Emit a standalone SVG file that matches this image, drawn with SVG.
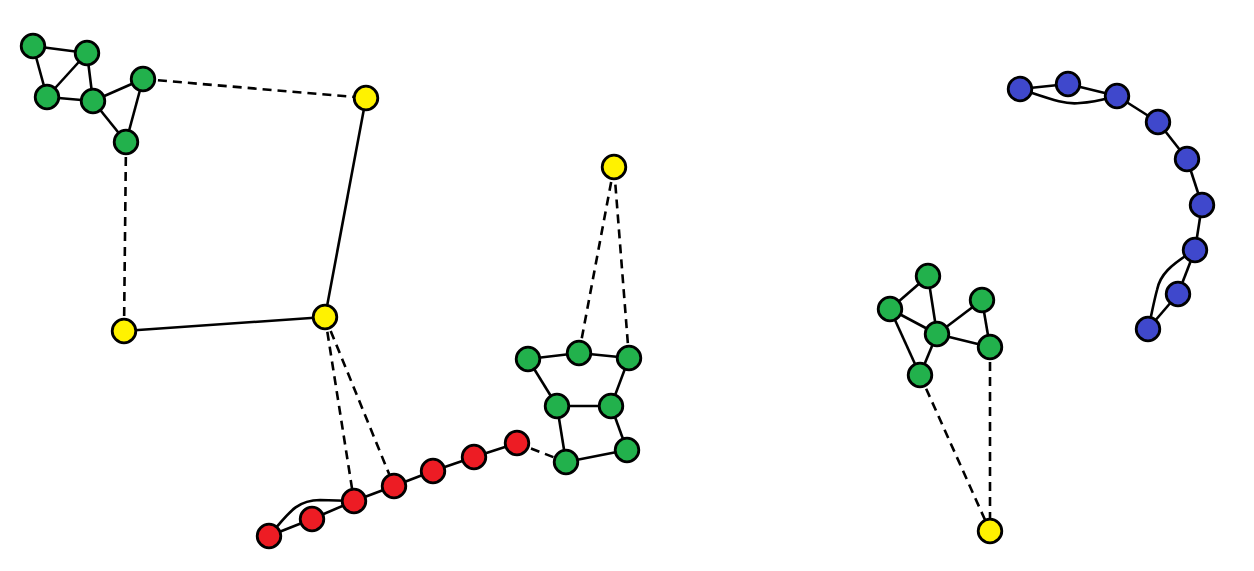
<svg xmlns="http://www.w3.org/2000/svg" width="1254" height="571" viewBox="0 0 1254 571">
<style>
.e{stroke:#000;stroke-width:2.6;fill:none}
.d{stroke:#000;stroke-width:2.6;fill:none;stroke-dasharray:9,6}
circle{stroke:#000;stroke-width:2.8}
.g{fill:#22b14c}.y{fill:#fff200}.r{fill:#ed1c24}.b{fill:#3f48cc}
</style>
<rect width="1254" height="571" fill="#fff"/>
<g id="connectors">
<line class="e" x1="33" y1="46" x2="87" y2="53"/>
<line class="e" x1="33" y1="46" x2="47" y2="97"/>
<line class="e" x1="47" y1="97" x2="87" y2="53"/>
<line class="e" x1="87" y1="53" x2="93" y2="101"/>
<line class="e" x1="47" y1="97" x2="93" y2="101"/>
<line class="e" x1="93" y1="101" x2="143" y2="79"/>
<line class="e" x1="93" y1="101" x2="126" y2="142"/>
<line class="e" x1="143" y1="79" x2="126" y2="142"/>
<line class="d" x1="143" y1="79" x2="366" y2="98"/>
<line class="d" x1="126" y1="142" x2="124" y2="331"/>
<line class="e" x1="366" y1="98" x2="325" y2="317"/>
<line class="e" x1="124" y1="331" x2="325" y2="317"/>
<line class="d" x1="325" y1="317" x2="354" y2="501"/>
<line class="d" x1="325" y1="317" x2="394" y2="486"/>
<line class="e" x1="269" y1="536" x2="312" y2="519"/>
<line class="e" x1="312" y1="519" x2="354" y2="501"/>
<line class="e" x1="354" y1="501" x2="394" y2="486"/>
<line class="e" x1="394" y1="486" x2="433" y2="471"/>
<line class="e" x1="433" y1="471" x2="474" y2="457"/>
<line class="e" x1="474" y1="457" x2="517" y2="443"/>
<path class="e" d="M269,536 C288,514 296,500 320,500 L354,501"/>
<line class="d" x1="517" y1="443" x2="566" y2="462"/>
<line class="e" x1="528" y1="359" x2="579" y2="353"/>
<line class="e" x1="579" y1="353" x2="629" y2="358"/>
<line class="e" x1="528" y1="359" x2="557" y2="406"/>
<line class="e" x1="629" y1="358" x2="611" y2="406"/>
<line class="e" x1="557" y1="406" x2="611" y2="406"/>
<line class="e" x1="557" y1="406" x2="566" y2="462"/>
<line class="e" x1="611" y1="406" x2="627" y2="450"/>
<line class="e" x1="566" y1="462" x2="627" y2="450"/>
<line class="d" x1="579" y1="353" x2="614" y2="167"/>
<line class="d" x1="629" y1="358" x2="614" y2="167"/>
<line class="e" x1="928" y1="276" x2="890" y2="309"/>
<line class="e" x1="928" y1="276" x2="937" y2="334"/>
<line class="e" x1="890" y1="309" x2="937" y2="334"/>
<line class="e" x1="890" y1="309" x2="920" y2="375"/>
<line class="e" x1="937" y1="334" x2="920" y2="375"/>
<line class="e" x1="937" y1="334" x2="982" y2="300"/>
<line class="e" x1="937" y1="334" x2="990" y2="347"/>
<line class="e" x1="982" y1="300" x2="990" y2="347"/>
<line class="d" x1="920" y1="375" x2="990" y2="531"/>
<line class="d" x1="990" y1="347" x2="990" y2="531"/>
<line class="e" x1="1020" y1="89" x2="1068" y2="84"/>
<line class="e" x1="1068" y1="84" x2="1117" y2="96"/>
<path class="e" d="M1020,89 C1050,99 1065,105 1080,103 C1095,102 1105,99 1117,96"/>
<line class="e" x1="1117" y1="96" x2="1158" y2="122"/>
<line class="e" x1="1158" y1="122" x2="1187" y2="159"/>
<line class="e" x1="1187" y1="159" x2="1202" y2="205"/>
<line class="e" x1="1202" y1="205" x2="1195" y2="250"/>
<line class="e" x1="1195" y1="250" x2="1178" y2="294"/>
<line class="e" x1="1178" y1="294" x2="1148" y2="329"/>
<path class="e" d="M1195,250 C1170,265 1160,275 1157,290 C1153,305 1151,318 1148,329"/>
</g>
<g id="n-a"><circle class="g" cx="33" cy="46" r="11.8"/></g>
<g id="n-b"><circle class="g" cx="87" cy="53" r="11.8"/></g>
<g id="n-c"><circle class="g" cx="47" cy="97" r="11.8"/></g>
<g id="n-d"><circle class="g" cx="93" cy="101" r="11.8"/></g>
<g id="n-e"><circle class="g" cx="143" cy="79" r="11.8"/></g>
<g id="n-f"><circle class="g" cx="126" cy="142" r="11.8"/></g>
<g id="y1"><circle class="y" cx="366" cy="98" r="11.8"/></g>
<g id="y2"><circle class="y" cx="124" cy="331" r="11.8"/></g>
<g id="y3"><circle class="y" cx="325" cy="317" r="11.8"/></g>
<g id="y4"><circle class="y" cx="614" cy="167" r="11.8"/></g>
<g id="y5"><circle class="y" cx="990" cy="531" r="11.8"/></g>
<g id="r1"><circle class="r" cx="269" cy="536" r="11.8"/></g>
<g id="r2"><circle class="r" cx="312" cy="519" r="11.8"/></g>
<g id="r3"><circle class="r" cx="354" cy="501" r="11.8"/></g>
<g id="r4"><circle class="r" cx="394" cy="486" r="11.8"/></g>
<g id="r5"><circle class="r" cx="433" cy="471" r="11.8"/></g>
<g id="r6"><circle class="r" cx="474" cy="457" r="11.8"/></g>
<g id="r7"><circle class="r" cx="517" cy="443" r="11.8"/></g>
<g id="m1"><circle class="g" cx="528" cy="359" r="11.8"/></g>
<g id="m2"><circle class="g" cx="579" cy="353" r="11.8"/></g>
<g id="m3"><circle class="g" cx="629" cy="358" r="11.8"/></g>
<g id="m4"><circle class="g" cx="557" cy="406" r="11.8"/></g>
<g id="m5"><circle class="g" cx="611" cy="406" r="11.8"/></g>
<g id="m6"><circle class="g" cx="566" cy="462" r="11.8"/></g>
<g id="m7"><circle class="g" cx="627" cy="450" r="11.8"/></g>
<g id="n1"><circle class="g" cx="928" cy="276" r="11.8"/></g>
<g id="n2"><circle class="g" cx="890" cy="309" r="11.8"/></g>
<g id="n3"><circle class="g" cx="937" cy="334" r="11.8"/></g>
<g id="n4"><circle class="g" cx="982" cy="300" r="11.8"/></g>
<g id="n5"><circle class="g" cx="990" cy="347" r="11.8"/></g>
<g id="n6"><circle class="g" cx="920" cy="375" r="11.8"/></g>
<g id="b1"><circle class="b" cx="1020" cy="89" r="11.8"/></g>
<g id="b2"><circle class="b" cx="1068" cy="84" r="11.8"/></g>
<g id="b3"><circle class="b" cx="1117" cy="96" r="11.8"/></g>
<g id="b4"><circle class="b" cx="1158" cy="122" r="11.8"/></g>
<g id="b5"><circle class="b" cx="1187" cy="159" r="11.8"/></g>
<g id="b6"><circle class="b" cx="1202" cy="205" r="11.8"/></g>
<g id="b7"><circle class="b" cx="1195" cy="250" r="11.8"/></g>
<g id="b8"><circle class="b" cx="1178" cy="294" r="11.8"/></g>
<g id="b9"><circle class="b" cx="1148" cy="329" r="11.8"/></g>
</svg>
